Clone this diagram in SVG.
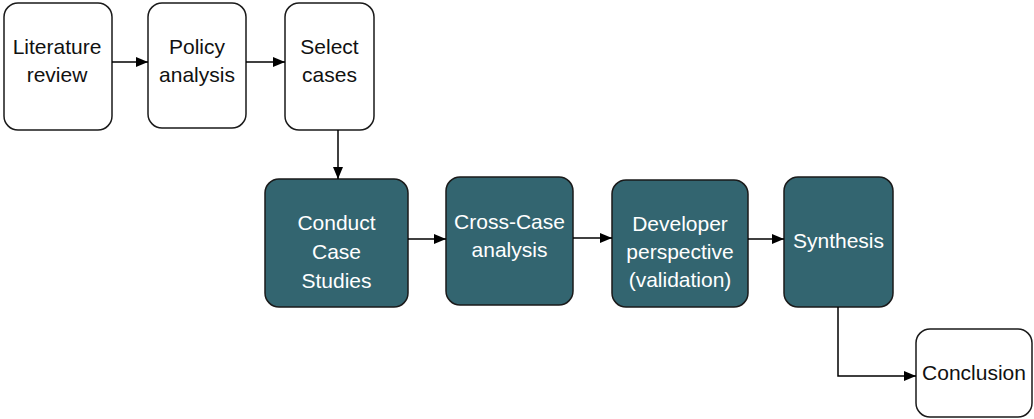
<svg xmlns="http://www.w3.org/2000/svg" width="1034" height="419" viewBox="0 0 1034 419">
  <style>
    .light rect { fill: #ffffff; stroke: #1a1a1a; stroke-width: 1.5; }
    .dark rect { fill: #336570; stroke: #1a1a1a; stroke-width: 1.5; }
    text { font-family: "Liberation Sans", Arial, sans-serif; font-size: 21px; text-anchor: middle; }
    .light text { fill: #111111; }
    .dark text { fill: #ffffff; }
    .edge { fill: none; stroke: #000000; stroke-width: 1.5; marker-end: url(#arrow); }
  </style>
  <defs>
    <marker id="arrow" viewBox="0 0 12 10" refX="12" refY="5" markerWidth="12" markerHeight="10" markerUnits="userSpaceOnUse" orient="auto">
      <path d="M0,0 L12,5 L0,10 Z" fill="#000000"/>
    </marker>
  </defs>

  <!-- white step boxes -->
  <g id="literature-review" class="light">
    <rect x="4" y="3" width="108" height="127" rx="14"/>
    <text x="57" y="54">Literature</text>
    <text x="57" y="82">review</text>
  </g>
  <g id="policy-analysis" class="light">
    <rect x="148" y="3" width="98" height="125" rx="14"/>
    <text x="197" y="54">Policy</text>
    <text x="197" y="82">analysis</text>
  </g>
  <g id="select-cases" class="light">
    <rect x="285" y="3" width="89" height="127" rx="14"/>
    <text x="329.5" y="54">Select</text>
    <text x="329.5" y="82">cases</text>
  </g>

  <!-- teal step boxes -->
  <g id="conduct-case-studies" class="dark">
    <rect x="265" y="179" width="143" height="128" rx="14"/>
    <text x="336.5" y="230">Conduct</text>
    <text x="336.5" y="259">Case</text>
    <text x="336.5" y="288">Studies</text>
  </g>
  <g id="cross-case-analysis" class="dark">
    <rect x="446" y="177" width="127" height="128" rx="14"/>
    <text x="509.5" y="229">Cross-Case</text>
    <text x="509.5" y="257">analysis</text>
  </g>
  <g id="developer-perspective" class="dark">
    <rect x="612" y="180" width="136" height="127" rx="14"/>
    <text x="680" y="231">Developer</text>
    <text x="680" y="259">perspective</text>
    <text x="680" y="287">(validation)</text>
  </g>
  <g id="synthesis" class="dark">
    <rect x="784" y="177" width="109" height="130" rx="14"/>
    <text x="838.5" y="248">Synthesis</text>
  </g>

  <g id="conclusion" class="light">
    <rect x="916" y="329" width="116" height="88" rx="14"/>
    <text x="974" y="380">Conclusion</text>
  </g>

  <!-- connectors -->
  <g id="connectors">
    <path class="edge" d="M112,62 H148"/>
    <path class="edge" d="M246,62 H285"/>
    <path class="edge" d="M338,130 V179"/>
    <path class="edge" d="M408,239 H446"/>
    <path class="edge" d="M573,238 H612"/>
    <path class="edge" d="M748,239 H784"/>
    <path class="edge" d="M838,307 V376 H916"/>
  </g>
</svg>
